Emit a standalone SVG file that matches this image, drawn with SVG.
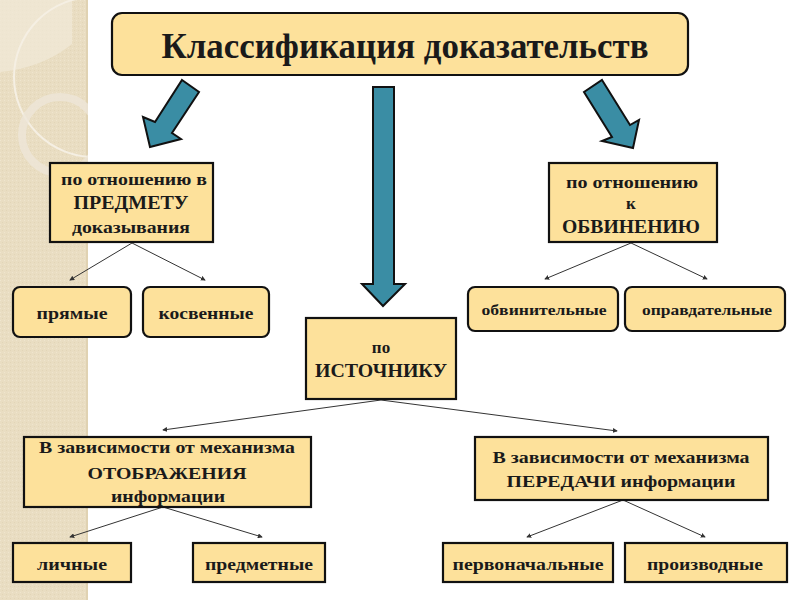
<svg xmlns="http://www.w3.org/2000/svg" width="800" height="600" viewBox="0 0 800 600" font-family="Liberation Serif, DejaVu Serif, serif">
<defs>
<style>
.box{fill:#fde19b;stroke:#111;stroke-width:2.2}
.arr{fill:#3a8da4;stroke:#111;stroke-width:2;stroke-linejoin:miter}
.t{font-weight:bold;fill:#1a1a1a;text-anchor:middle}
.con{stroke:#333;stroke-width:1;fill:none;marker-end:url(#ah)}
</style>
<marker id="ah" viewBox="0 0 6 6" refX="5" refY="3" markerWidth="5" markerHeight="5" orient="auto" markerUnits="userSpaceOnUse">
<path d="M0,0 L6,3 L0,6 Z" fill="#333"/>
</marker>
<pattern id="tex" width="4" height="4" patternUnits="userSpaceOnUse">
<rect width="4" height="4" fill="#e9ddc2"/>
<rect width="1" height="1" fill="#efe5ce"/>
<rect x="2" y="2" width="1" height="1" fill="#e2d5b7"/>
</pattern>
<clipPath id="strip"><rect x="0" y="0" width="88" height="600"/></clipPath>
</defs>
<rect width="800" height="600" fill="#ffffff"/>
<g id="background">
<rect x="0" y="0" width="88" height="600" fill="url(#tex)"/>
<rect x="86" y="0" width="2" height="600" fill="#e0d2b2"/>
<g clip-path="url(#strip)">
<path d="M0,0 H72 V44 Q42,68 0,72 Z" fill="#f1e9d8" opacity="0.7"/>
<circle cx="94" cy="77" r="80" fill="none" stroke="#f5efe3" stroke-width="2"/>
<circle cx="60" cy="135" r="38" fill="none" stroke="#ede6d8" stroke-width="8" opacity="0.8"/>
</g>
</g>
<g id="connectors">
<line class="con" x1="132" y1="243" x2="70" y2="280"/>
<line class="con" x1="132" y1="243" x2="205" y2="280"/>
<line class="con" x1="631" y1="243" x2="545" y2="279"/>
<line class="con" x1="631" y1="243" x2="707" y2="279"/>
<line class="con" x1="381" y1="400" x2="163" y2="430"/>
<line class="con" x1="381" y1="400" x2="617" y2="431"/>
<line class="con" x1="163" y1="507" x2="70" y2="537"/>
<line class="con" x1="163" y1="507" x2="262" y2="537"/>
<line class="con" x1="623" y1="500" x2="527" y2="537"/>
<line class="con" x1="623" y1="500" x2="705" y2="537"/>
</g>
<g id="arrows">
<polygon class="arr" points="182,80 199,92 172,133 181,139 150,147 143,117 155,122"/>
<polygon class="arr" points="373,87 394,87 394,284 405,284 383,306 362,284 373,284"/>
<polygon class="arr" points="602,80 630,125 639,120 633,148 602,141 612,137 584,92"/>
</g>
<g id="title">
<rect class="box" x="112" y="13" width="576" height="62" rx="10"/>
<text class="t" x="405" y="58" font-size="35" textLength="487" lengthAdjust="spacingAndGlyphs">Классификация доказательств</text>
</g>
<g id="predmet">
<rect class="box" x="50" y="163" width="163" height="79"/>
<text class="t" x="134" y="185" font-size="17" textLength="146" lengthAdjust="spacingAndGlyphs">по отношению в</text>
<text class="t" x="131" y="209" font-size="18" textLength="115" lengthAdjust="spacingAndGlyphs">ПРЕДМЕТУ</text>
<text class="t" x="131" y="233" font-size="17" textLength="118" lengthAdjust="spacingAndGlyphs">доказывания</text>
</g>
<g id="obvin">
<rect class="box" x="549" y="163" width="168" height="79"/>
<text class="t" x="632" y="188" font-size="17" textLength="132" lengthAdjust="spacingAndGlyphs">по отношению</text>
<text class="t" x="631" y="209" font-size="17">к</text>
<text class="t" x="631" y="233" font-size="18" textLength="138" lengthAdjust="spacingAndGlyphs">ОБВИНЕНИЮ</text>
</g>
<g id="pryamye">
<rect class="box" x="13" y="287" width="118" height="50" rx="7"/>
<text class="t" x="72" y="319" font-size="17" textLength="71" lengthAdjust="spacingAndGlyphs">прямые</text>
</g>
<g id="kosvennye">
<rect class="box" x="143" y="287" width="126" height="50" rx="7"/>
<text class="t" x="206" y="319" font-size="17" textLength="95" lengthAdjust="spacingAndGlyphs">косвенные</text>
</g>
<g id="obvinitelnye">
<rect class="box" x="468" y="287" width="150" height="44" rx="7"/>
<text class="t" x="544" y="315" font-size="15" textLength="125" lengthAdjust="spacingAndGlyphs">обвинительные</text>
</g>
<g id="opravdatelnye">
<rect class="box" x="625" y="287" width="160" height="44" rx="7"/>
<text class="t" x="707" y="315" font-size="15" textLength="130" lengthAdjust="spacingAndGlyphs">оправдательные</text>
</g>
<g id="istochnik">
<rect class="box" x="306" y="318" width="150" height="81"/>
<text class="t" x="381" y="353" font-size="17">по</text>
<text class="t" x="381" y="377" font-size="18" textLength="132" lengthAdjust="spacingAndGlyphs">ИСТОЧНИКУ</text>
</g>
<g id="otobrazhenie">
<rect class="box" x="24" y="437" width="287" height="70"/>
<text class="t" x="167" y="453" font-size="16" textLength="256" lengthAdjust="spacingAndGlyphs">В зависимости от механизма</text>
<text class="t" x="167" y="479" font-size="17" textLength="159" lengthAdjust="spacingAndGlyphs">ОТОБРАЖЕНИЯ</text>
<text class="t" x="168" y="502" font-size="17" textLength="114" lengthAdjust="spacingAndGlyphs">информации</text>
</g>
<g id="peredacha">
<rect class="box" x="475" y="437" width="293" height="63"/>
<text class="t" x="621" y="463" font-size="16" textLength="257" lengthAdjust="spacingAndGlyphs">В зависимости от механизма</text>
<text class="t" x="621" y="487" font-size="16" textLength="229" lengthAdjust="spacingAndGlyphs">ПЕРЕДАЧИ информации</text>
</g>
<g id="lichnye">
<rect class="box" x="13" y="543" width="118" height="39"/>
<text class="t" x="72" y="570" font-size="16" textLength="70" lengthAdjust="spacingAndGlyphs">личные</text>
</g>
<g id="predmetnye">
<rect class="box" x="193" y="543" width="132" height="39"/>
<text class="t" x="259" y="570" font-size="16" textLength="108" lengthAdjust="spacingAndGlyphs">предметные</text>
</g>
<g id="pervonachalnye">
<rect class="box" x="443" y="543" width="170" height="39"/>
<text class="t" x="528" y="570" font-size="16" textLength="151" lengthAdjust="spacingAndGlyphs">первоначальные</text>
</g>
<g id="proizvodnye">
<rect class="box" x="625" y="543" width="162" height="39"/>
<text class="t" x="705" y="570" font-size="16" textLength="116" lengthAdjust="spacingAndGlyphs">производные</text>
</g>
</svg>
